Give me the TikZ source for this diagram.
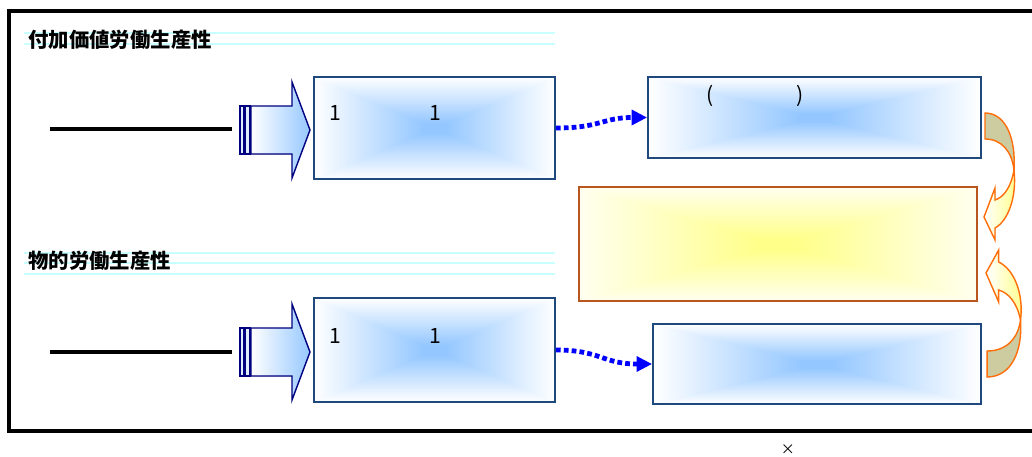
\documentclass[tikz,border=0pt]{standalone}
\usepackage{fontspec}
\setmainfont{Noto Sans CJK JP}
\usepackage{xcolor}
\usepackage{tikz}
\usetikzlibrary{arrows.meta,positioning,fit}
\definecolor{mynavy}{RGB}{0,0,128}
\definecolor{myedge}{RGB}{31,73,125}
\definecolor{mysky}{RGB}{150,200,255}
\definecolor{myyellow}{RGB}{255,255,140}
\definecolor{mybrown}{RGB}{185,85,30}
\definecolor{myorange}{RGB}{255,110,10}
\definecolor{myolive}{RGB}{204,204,160}
\definecolor{mycyan}{RGB}{200,255,255}
\definecolor{mydot}{RGB}{0,0,255}

% rectangular gradients: pale at the border, strong in the middle
\pgfdeclarefunctionalshading{rectblue}{\pgfpoint{-50bp}{-50bp}}{\pgfpoint{50bp}{50bp}}{}{
  abs exch abs 2 copy lt {exch} if pop
  25 div 1 exch sub 1.1 mul dup 1 gt {pop 1} if dup 0 lt {pop 0} if
  dup dup 0.42 mul 1 exch sub 3 1 roll 0.22 mul 1 exch sub exch pop 1
}
\pgfdeclarefunctionalshading{rectyellow}{\pgfpoint{-50bp}{-50bp}}{\pgfpoint{50bp}{50bp}}{}{
  abs exch abs 2 copy lt {exch} if pop
  25 div 1 exch sub 1.1 mul dup 1 gt {pop 1} if dup 0 lt {pop 0} if
  0.40 mul 0.94 exch sub 1 1 3 -1 roll
}

\tikzset{
  bluebox/.style={draw=myedge, line width=1.3pt, inner sep=0pt, shade, shading=rectblue},
  yellowbox/.style={draw=mybrown, line width=1.3pt, inner sep=0pt, shade, shading=rectyellow},
  titletext/.style={inner sep=0pt, anchor=west, font=\fontsize{14.5}{17}\selectfont\bfseries},
  dotarrow/.style={mydot, line width=3.4pt, dash pattern=on 3.4pt off 2.2pt,
                   -{Triangle[length=11pt,width=10.5pt]}},
  pipearrow/.pic={
    \filldraw[draw=mynavy, line width=1pt, left color=white, right color=mysky]
      (11,-24) -- (52,-24) -- (52,-48) -- (70,0) -- (52,48) -- (52,24) -- (11,24) -- cycle;
    \filldraw[draw=mynavy, line width=1pt, fill=white!70!mysky] (0,-24) rectangle (4,24);
    \filldraw[draw=mynavy, line width=1pt, fill=white!70!mysky] (5,-24) rectangle (10,24);
  },
  bendarrow/.pic={
    \filldraw[draw=myorange, fill=myolive, line width=1pt]
      (1,-104) .. controls (22,-104) and (32,-78) .. (30,-47)
      .. controls (28,-65) and (18,-78) .. (1,-78) -- cycle;
    \filldraw[draw=myorange, line width=1pt, left color=white, right color=myyellow]
      (30,-47) .. controls (27,-30) and (20,-20) .. (11,-17) -- (11,-29) -- (0,0)
      -- (11,23) -- (11,11) .. controls (24,4) and (33,-20) .. (30,-47) -- cycle;
  }
}

\begin{document}
\begin{tikzpicture}[x=0.025cm, y=-0.025cm, font=\fontsize{15}{18}\selectfont]
  \useasboundingbox (0,0) rectangle (1032,456);
  % Frame
  \draw[line width=2.2pt] (9,11) rectangle (1060,431);
  % Title rules
  \foreach \y in {33,44}
    \draw[mycyan, line width=1.4pt] (24,\y) -- (555,\y);
  \foreach \y in {253,263,274}
    \draw[mycyan, line width=1.4pt] (24,\y) -- (555,\y);
  \node[titletext] (title1) at (28,40) {付加価値労働生産性};
  \node[titletext] (title2) at (28,261) {物的労働生産性};
  % Boxes
  \node[bluebox, fit={(314,77) (555,179)}] (A1) {};
  \node[bluebox, fit={(314,298) (555,402)}] (A2) {};
  \node[bluebox, fit={(648,77) (981,158)}] (B1) {};
  \node[bluebox, fit={(653,324) (981,404)}] (B2) {};
  \node[yellowbox, fit={(579,187) (977,301)}] (C) {};
  % Box texts
  \node (a1left)  at (335,113) {1};
  \node (a1mid)   at (435,113) {1};
  \node (a2left)  at (335,336) {1};
  \node (a2mid)   at (435,336) {1};
  \node (b1open)  at (710,96)  {(};
  \node (b1close) at (800,96)  {)};
  % Input lines and arrows
  \draw[line width=2.2pt] (50,129) -- (232,129);
  \draw[line width=2.2pt] (50,352) -- (232,352);
  \pic at (240,130) {pipearrow};
  \pic at (240,352) {pipearrow};
  % Dotted links
  \draw[dotarrow] (A1.east) .. controls +(45,0) and +(-45,0) .. (B1.west);
  \draw[dotarrow] (A2.east) .. controls +(45,0) and +(-50,0) .. (B2.west);
  % Bent arrows into the yellow box
  \pic at (984,217) {bendarrow};
  \pic[yscale=-1, xscale=1.15] at (986,273) {bendarrow};
  \node[font=\fontsize{10}{12}\selectfont] (times) at (788,450) {×};
\end{tikzpicture}
\end{document}
